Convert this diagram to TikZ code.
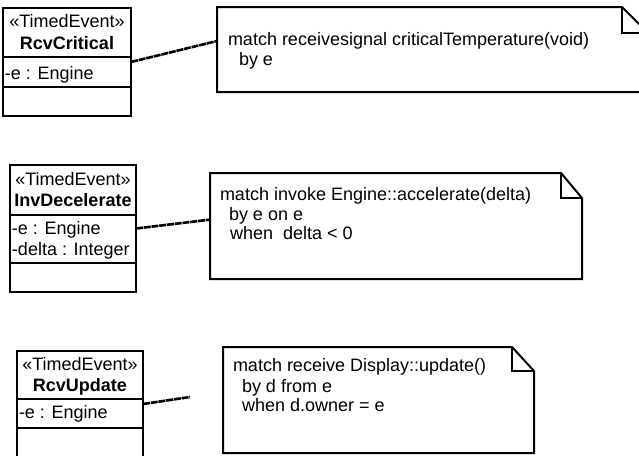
\documentclass[tikz,border=0pt]{standalone}
\usepackage{fontspec}
\setmainfont{Liberation Sans}
\usetikzlibrary{calc}
\begin{document}
\begin{tikzpicture}[x=1pt,y=-1pt,
  every node/.style={inner sep=0pt,outer sep=0pt,font=\fontsize{18}{20}\selectfont},
  classbox/.style={draw,line width=2pt,rectangle,anchor=north west},
  notebox/.style={rectangle,anchor=north west},
  txt/.style={anchor=base west},
  ctxt/.style={anchor=base},
  boldtxt/.style={anchor=base,font=\fontsize{18}{20}\selectfont\bfseries},
  link/.style={line width=2.6pt,dash pattern=on 7pt off 0.8pt},
  outline/.style={line width=2pt,line join=miter}]
\useasboundingbox (0,0) rectangle (639,455);
\clip (0,0) rectangle (639,455);

% ---------- class 1 ----------
\node[classbox,minimum width=128pt,minimum height=108pt] (c1) at (3,8) {};
\node[ctxt] (s1) at ($(c1.north)+(0,19.5)$) {«TimedEvent»};
\node[boldtxt] (h1) at ($(c1.north)+(0,41.5)$) {RcvCritical};
\draw[outline] ($(c1.north west)+(0,49)$) -- ($(c1.north east)+(0,49)$);
\node[txt] (a1) at ($(c1.north west)+(2,71)$) {-e : Engine};
\draw[outline] ($(c1.north west)+(0,79)$) -- ($(c1.north east)+(0,79)$);

% ---------- class 2 ----------
\node[classbox,minimum width=126pt,minimum height=127pt] (c2) at (10,165) {};
\node[ctxt] (s2) at ($(c2.north)+(0,20)$) {«TimedEvent»};
\node[boldtxt] (h2) at ($(c2.north)+(0,41.7)$) {InvDecelerate};
\draw[outline] ($(c2.north west)+(0,50)$) -- ($(c2.north east)+(0,50)$);
\node[txt] (a2) at ($(c2.north west)+(2,69)$) {-e : Engine};
\node[txt] (b2) at ($(c2.north west)+(2,90.7)$) {-delta : Integer};
\draw[outline] ($(c2.north west)+(0,98)$) -- ($(c2.north east)+(0,98)$);

% ---------- class 3 ----------
\node[classbox,minimum width=126pt,minimum height=106pt] (c3) at (17,351) {};
\node[ctxt] (s3) at ($(c3.north)+(0,19)$) {«TimedEvent»};
\node[boldtxt] (h3) at ($(c3.north)+(0,40.7)$) {RcvUpdate};
\draw[outline] ($(c3.north west)+(0,48)$) -- ($(c3.north east)+(0,48)$);
\node[txt] (a3) at ($(c3.north west)+(2,67.3)$) {-e : Engine};
\draw[outline] ($(c3.north west)+(0,77)$) -- ($(c3.north east)+(0,77)$);

% ---------- note 1 ----------
\node[notebox,minimum width=431pt,minimum height=85pt] (n1) at (217,7) {};
\draw[outline] (n1.north west) -- ($(n1.north east)+(-26,0)$) -- ($(n1.north east)+(0,26)$) -- (n1.south east) -- (n1.south west) -- cycle;
\draw[outline] ($(n1.north east)+(-26,0)$) -- ($(n1.north east)+(-26,26)$) -- ($(n1.north east)+(0,26)$);
\node[txt] (t11) at ($(n1.north west)+(11,38.7)$) {match receivesignal criticalTemperature(void)};
\node[txt] (t12) at ($(n1.north west)+(22,58.7)$) {by e};

% ---------- note 2 ----------
\node[notebox,minimum width=372pt,minimum height=106pt] (n2) at (210,173) {};
\draw[outline] (n2.north west) -- ($(n2.north east)+(-21,0)$) -- ($(n2.north east)+(0,25)$) -- (n2.south east) -- (n2.south west) -- cycle;
\draw[outline] ($(n2.north east)+(-21,0)$) -- ($(n2.north east)+(-21,25)$) -- ($(n2.north east)+(0,25)$);
\node[txt] (t21) at ($(n2.north west)+(10,27)$) {match invoke Engine::accelerate(delta)};
\node[txt] (t22) at ($(n2.north west)+(19,47)$) {by e on e};
\node[txt] (t23) at ($(n2.north west)+(20,66)$) {when\ \ delta < 0};

% ---------- note 3 ----------
\node[notebox,minimum width=311pt,minimum height=106pt] (n3) at (223,347) {};
\draw[outline] (n3.north west) -- ($(n3.north east)+(-22,0)$) -- ($(n3.north east)+(0,24)$) -- (n3.south east) -- (n3.south west) -- cycle;
\draw[outline] ($(n3.north east)+(-22,0)$) -- ($(n3.north east)+(-22,24)$) -- ($(n3.north east)+(0,24)$);
\node[txt] (t31) at ($(n3.north west)+(10,24)$) {match receive Display::update()};
\node[txt] (t32) at ($(n3.north west)+(19,45)$) {by d from e};
\node[txt] (t33) at ($(n3.north west)+(19,64)$) {when d.owner = e};

% ---------- connectors ----------
\draw[link] (c1.east) -- ($(n1.north west)!0.4!(n1.south west)$);
\draw[link] (c2.east) -- ($(n2.north west)!0.44!(n2.south west)$);
\coordinate (e3) at (190,397);
\draw[link] (c3.east) -- (e3);
\end{tikzpicture}
\end{document}
